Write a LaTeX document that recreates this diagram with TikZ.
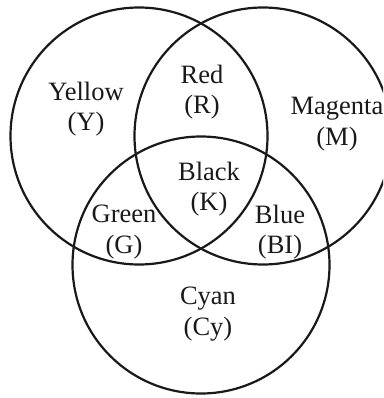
\documentclass[tikz,border=0pt]{standalone}
\usepackage{fontspec}
\setmainfont{Liberation Serif}
\begin{document}
\begin{tikzpicture}[x=1pt,y=-1pt,
  ring/.style={draw=black!90, line width=2.2pt, circle, minimum size=257pt, inner sep=0pt},
  lbl/.style={align=center, inner sep=0pt, font=\fontsize{26.5}{30.5}\selectfont, text=black!90}]
\useasboundingbox (0,0) rectangle (383,398);
\clip (0,0) rectangle (383,398);
\node[ring] (ycirc) at (139,136) {};
\node[ring] (mcirc) at (263,136) {};
\node[ring] (ccirc) at (201,265) {};
\node[lbl] (yellow) at (86,109) {Yellow\\(Y)};
\node[lbl] (red) at (202,92) {Red\\(R)};
\node[lbl] (magenta) at (337,124) {Magenta\\(M)};
\node[lbl] (black) at (209,189) {Black\\(K)};
\node[lbl] (green) at (124,232) {Green\\(G)};
\node[lbl] (blue) at (280,232) {Blue\\(BI)};
\node[lbl] (cyan) at (208,314) {Cyan\\(Cy)};
\end{tikzpicture}
\end{document}
